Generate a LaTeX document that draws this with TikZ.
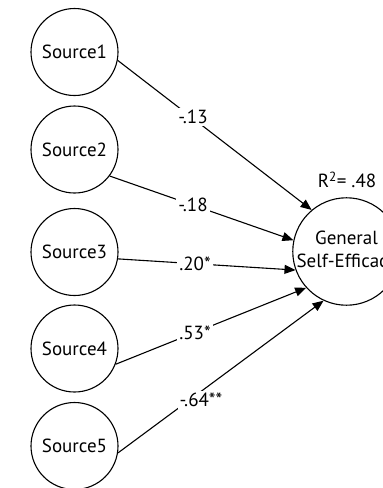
\documentclass[tikz,border=0pt]{standalone}
\usepackage{fontspec}
\setmainfont{PT Sans}
\usetikzlibrary{arrows.meta}
\begin{document}
\begin{tikzpicture}[x=1pt,y=-1pt,
  src/.style={circle,draw,line width=1.1pt,minimum size=87pt,inner sep=0pt,font=\fontsize{19}{21}\selectfont},
  tgt/.style={circle,draw,line width=1.1pt,minimum size=107pt,inner sep=0pt,align=center,font=\fontsize{19}{23}\selectfont},
  path/.style={line width=1.1pt,-{Triangle[length=11pt,width=9pt]}},
  lbl/.style={fill=white,inner sep=2pt,font=\fontsize{19}{21}\selectfont}]
\useasboundingbox (0,0) rectangle (383,488);
\clip (0,0) rectangle (383,488);
\node[src] (s1) at (74.5,52) {Source1};
\node[src] (s2) at (74.5,149.5) {Source2};
\node[src] (s3) at (74.5,252) {Source3};
\node[src] (s4) at (74.5,348.5) {Source4};
\node[src] (s5) at (74.5,446) {Source5};
\node[tgt] (g) at (346.5,251.5) {General\\Self-Efficacy};
\node[font=\fontsize{19}{21}\selectfont] (r2) at (347,180) {R\textsuperscript{2}= .48};
\draw[path] (s1.-11.7) -- (g.130.4);
\draw[path] (s2.-37.8) -- (g.168);
\draw[path] (s3.-9) -- (g.200);
\draw[path] (s4.-21) -- (g.222.7);
\draw[path] (s5.-9) -- (g.245.5);
\node[lbl] (l1) at (193,117) {-.13};
\node[lbl] (l2) at (193,205) {-.18};
\node[lbl] (l3) at (195,264) {.20*};
\node[lbl] (l4) at (195,333) {.53*};
\node[lbl] (l5) at (201,400) {-.64**};
\end{tikzpicture}
\end{document}
